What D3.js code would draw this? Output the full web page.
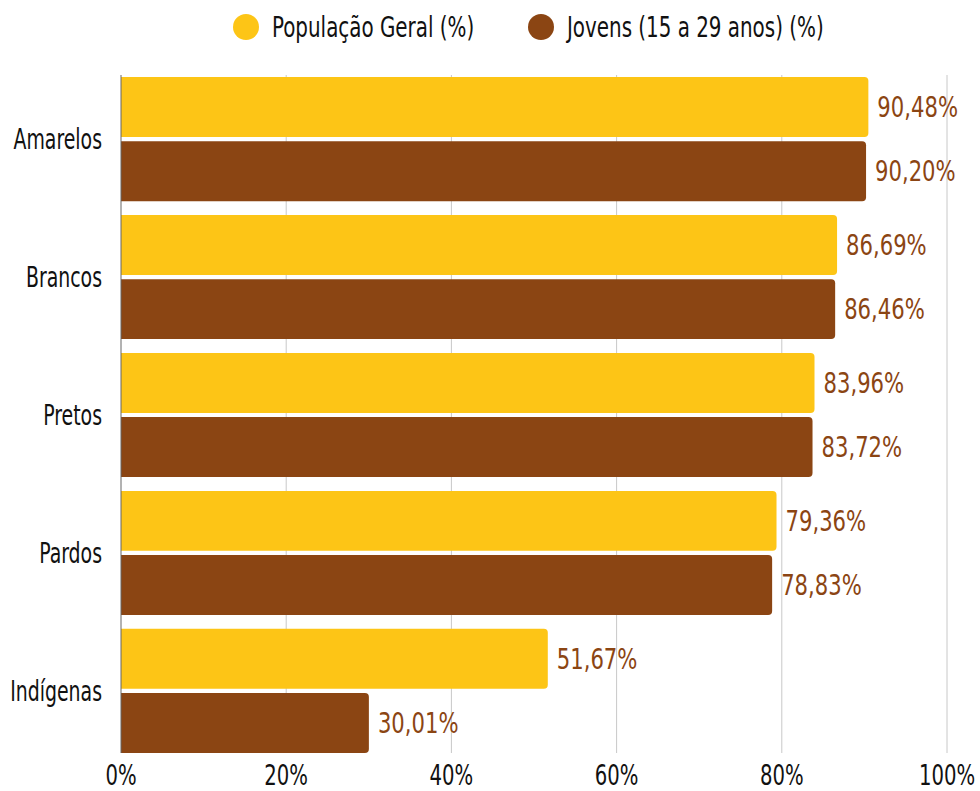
<!DOCTYPE html>
<html><head><meta charset="utf-8">
<script src="https://cdn.jsdelivr.net/npm/d3@7"></script>
<style>
body{margin:0;background:#fff;}
svg{display:block;}
</style></head>
<body>
<svg id="chart" width="980" height="791"></svg>
<script>
const categories = ["Amarelos","Brancos","Pretos","Pardos","Indígenas"];
const seriesNames = ["População Geral (%)","Jovens (15 a 29 anos) (%)"];
const geral = [90.48, 86.69, 83.96, 79.36, 51.67];
const jovens = [90.20, 86.46, 83.72, 78.83, 30.01];
const geralLabels = ["90,48%","86,69%","83,96%","79,36%","51,67%"];
const jovensLabels = ["90,20%","86,46%","83,72%","78,83%","30,01%"];
const tickValues = [0,20,40,60,80,100];
const colors = ["#FDC516","#8B4513"];

const svg = d3.select("#chart");
const font = "'DejaVu Sans Condensed','DejaVu Sans',sans-serif";
const x = d3.scaleLinear().domain([0,100]).range([121,947]);
const y0 = d3.scaleBand().domain(categories).range([77,753]).paddingInner(0.1).paddingOuter(0);
const y1 = d3.scaleBand().domain([0,1]).range([0,y0.bandwidth()]).paddingInner(0.065);

// gridlines
svg.append("g").selectAll("line").data(tickValues.slice(1)).join("line")
  .attr("x1",d=>x(d)).attr("x2",d=>x(d)).attr("y1",75).attr("y2",753)
  .attr("stroke","#c8c8c8").attr("stroke-width",1);

const rows = categories.map((c,i)=>({c, vals:[geral[i],jovens[i]], labels:[geralLabels[i],jovensLabels[i]]}));
function barPath(x0,y,w,h,r){
  return `M${x0},${y}H${x0+w-r}Q${x0+w},${y} ${x0+w},${y+r}V${y+h-r}Q${x0+w},${y+h} ${x0+w-r},${y+h}H${x0}Z`;
}
const g = svg.append("g").selectAll("g").data(rows).join("g")
  .attr("transform",d=>`translate(0,${y0(d.c)})`);
g.selectAll("path").data(d=>d.vals.map((v,k)=>({v,k}))).join("path")
  .attr("d",d=>barPath(x(0),y1(d.k),x(d.v)-x(0),y1.bandwidth(),4))
  .attr("fill",d=>colors[d.k]);
g.selectAll("text").data(d=>d.vals.map((v,k)=>({v,k,l:d.labels[k]}))).join("text")
  .attr("transform",d=>`translate(${x(d.v)+9},${y1(d.k)+y1.bandwidth()/2}) scale(0.84,1)`)
  .attr("dy","0.36em").attr("fill","#8B4513")
  .attr("font-family",font).attr("font-size",28)
  .text(d=>d.l);

// left axis line
svg.append("line").attr("x1",x(0)).attr("x2",x(0)).attr("y1",75).attr("y2",753)
  .attr("stroke","#666").attr("stroke-width",1);

// category labels
svg.append("g").selectAll("text").data(categories).join("text")
  .attr("transform",d=>`translate(102,${y0(d)+y0.bandwidth()/2}) scale(0.75,1)`)
  .attr("dy","0.36em")
  .attr("text-anchor","end").attr("font-family",font).attr("font-size",28)
  .attr("fill","#111").text(d=>d);

// x axis tick labels
svg.append("g").selectAll("text").data(tickValues).join("text")
  .attr("transform",d=>`translate(${x(d)},785) scale(0.78,1)`)
  .attr("text-anchor","middle")
  .attr("font-family",font).attr("font-size",28).attr("fill","#111")
  .text(d=>d+"%");

// legend
const legendX = [246, 541];
const lg = svg.append("g").selectAll("g").data(seriesNames).join("g")
  .attr("transform",(d,i)=>`translate(${legendX[i]},27)`);
lg.append("circle").attr("r",13).attr("fill",(d,i)=>colors[i]);
lg.append("text").attr("transform","translate(26,0) scale(0.79,1)").attr("dy","0.36em").attr("font-family",font)
  .attr("font-size",28).attr("fill","#111").text(d=>d);
</script>
</body></html>
